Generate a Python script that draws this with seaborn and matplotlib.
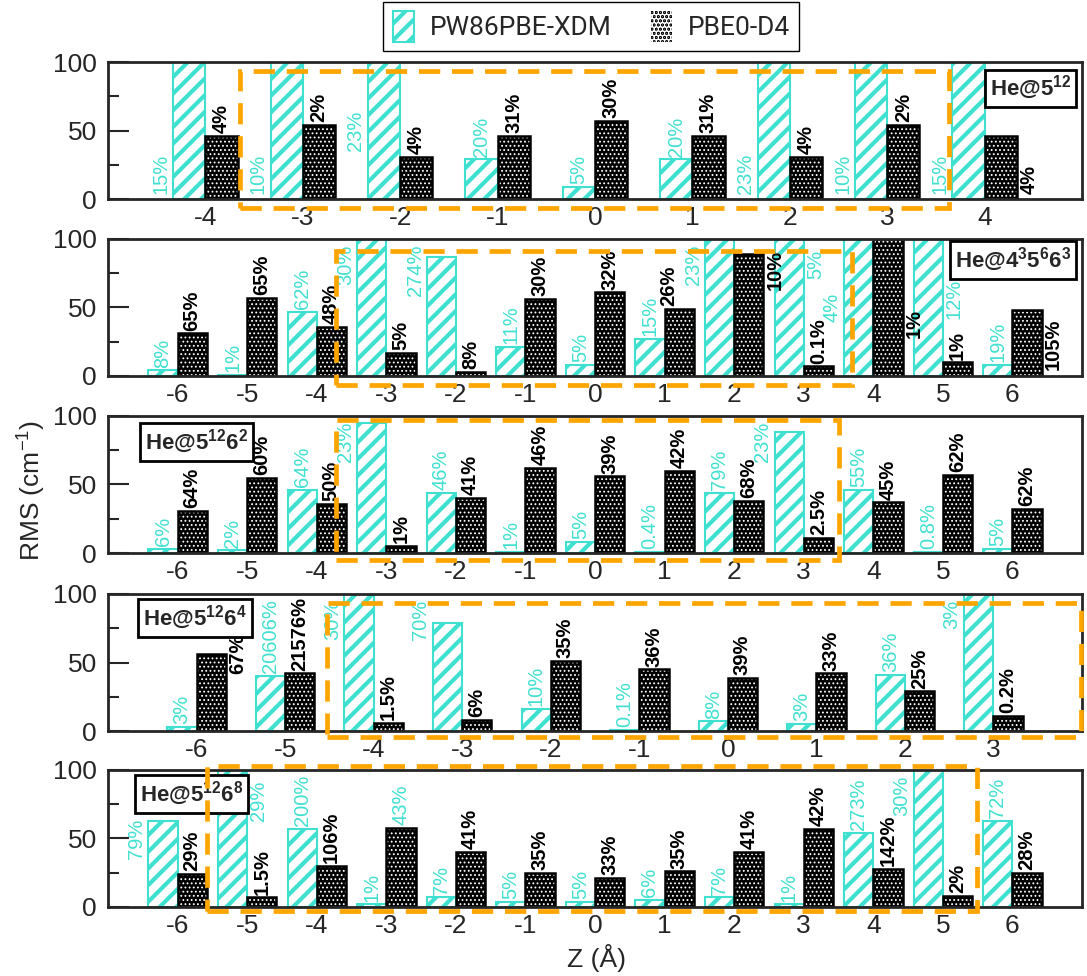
import numpy as np
import pandas as pd
import matplotlib.pyplot as plt
import seaborn as sns
from matplotlib.patches import Rectangle

sns.set_style('ticks')
plt.rcParams['font.family'] = ['Liberation Sans', 'DejaVu Sans']
plt.rcParams['mathtext.fontset'] = 'custom'
plt.rcParams['mathtext.rm'] = 'Liberation Sans'
plt.rcParams['mathtext.bf'] = 'Liberation Sans:bold'
plt.rcParams['hatch.linewidth'] = 3.0

cyan = '#40E0D0'
orange = '#FFA500'
methods = ['PW86PBE-XDM', 'PBE0-D4']

# Panel 1: He@5^12  (bars above 100 are cut by the axis)
z1 = [-4, -3, -2, -1, 0, 1, 2, 3, 4]
xdm1 = [130, 130, 130, 29, 9, 29, 130, 130, 130]
d4_1 = [46, 54, 31, 46, 57, 46, 31, 54, 46]
xdm1_lab = ['15%', '10%', '23%', '20%', '5%', '20%', '23%', '10%', '15%']
d4_1_lab = ['4%', '2%', '4%', '31%', '30%', '31%', '4%', '2%', '4%']

# Panel 2: He@4^3 5^6 6^3
z2 = [-6, -5, -4, -3, -2, -1, 0, 1, 2, 3, 4, 5, 6]
xdm2 = [4, 1, 47, 130, 87, 21, 8, 27, 130, 130, 130, 130, 8]
d4_2 = [31, 57, 36, 17, 3, 56, 61, 49, 89, 7, 130, 10, 48]
xdm2_lab = ['8%', '1%', '62%', '30%', '274%', '11%', '5%', '15%', '23%', '5%', '4%', '12%', '19%']
d4_2_lab = ['65%', '65%', '48%', '5%', '8%', '30%', '32%', '26%', '10%', '0.1%', '1%', '1%', '105%']

# Panel 3: He@5^12 6^2
z3 = [-6, -5, -4, -3, -2, -1, 0, 1, 2, 3, 4, 5, 6]
xdm3 = [3, 2, 46, 95, 44, 1, 8, 1, 44, 88, 46, 1, 3]
d4_3 = [31, 55, 36, 5, 40, 62, 56, 60, 38, 11, 37, 57, 32]
xdm3_lab = ['6%', '2%', '64%', '23%', '46%', '1%', '5%', '0.4%', '79%', '23%', '55%', '0.8%', '5%']
d4_3_lab = ['64%', '60%', '50%', '1%', '41%', '46%', '39%', '42%', '68%', '2.5%', '45%', '62%', '62%']

# Panel 4: He@5^12 6^4
z4 = [-6, -5, -4, -3, -2, -1, 0, 1, 2, 3]
xdm4 = [3, 40, 130, 79, 16, 1, 7, 5, 41, 130]
d4_4 = [56, 42, 6, 8, 51, 45, 39, 42, 29, 11]
xdm4_lab = ['3%', '20606%', '30%', '70%', '10%', '0.1%', '8%', '3%', '36%', '3%']
d4_4_lab = ['67%', '21576%', '1.5%', '6%', '35%', '36%', '39%', '33%', '25%', '0.2%']

# Panel 5: He@5^12 6^8
z5 = [-6, -5, -4, -3, -2, -1, 0, 1, 2, 3, 4, 5, 6]
xdm5 = [63, 130, 57, 2, 7, 4, 4, 5, 7, 2, 54, 130, 63]
d4_5 = [24, 7, 30, 58, 40, 25, 21, 26, 40, 57, 28, 8, 25]
xdm5_lab = ['79%', '29%', '200%', '1%', '7%', '5%', '5%', '6%', '7%', '1%', '273%', '30%', '72%']
d4_5_lab = ['29%', '1.5%', '106%', '43%', '41%', '35%', '33%', '35%', '41%', '42%', '142%', '2%', '28%']

# where each percent label sits: t = on top, k = on top nudged left,
# l/m/h = left low/mid/high, r/q/s/u = right low/lower-mid/mid/high,
# T = on top in the other series colour
xdm1_at = 'llmtttlll'
d4_1_at = 'ttttttttr'
xdm2_at = 'ttthhttthumst'
d4_2_at = 'tttttttkutqtr'
xdm3_at = 'ttthttttthttt'
d4_3_at = 'ttttttttttttt'
xdm4_at = 'tthhttttth'
d4_4_at = 'sttttttttt'
xdm5_at = 'mutttttttttht'
d4_5_at = 'tttTttttttttt'

names = [r'He@5$^{\mathbf{12}}$',
         r'He@4$^{\mathbf{3}}$5$^{\mathbf{6}}$6$^{\mathbf{3}}$',
         r'He@5$^{\mathbf{12}}$6$^{\mathbf{2}}$',
         r'He@5$^{\mathbf{12}}$6$^{\mathbf{4}}$',
         r'He@5$^{\mathbf{12}}$6$^{\mathbf{8}}$']

panels = [
    (z1, xdm1, d4_1, xdm1_lab, d4_1_lab, xdm1_at, d4_1_at),
    (z2, xdm2, d4_2, xdm2_lab, d4_2_lab, xdm2_at, d4_2_at),
    (z3, xdm3, d4_3, xdm3_lab, d4_3_lab, xdm3_at, d4_3_at),
    (z4, xdm4, d4_4, xdm4_lab, d4_4_lab, xdm4_at, d4_4_at),
    (z5, xdm5, d4_5, xdm5_lab, d4_5_lab, xdm5_at, d4_5_at),
]

# layout: axes bottoms, x limits, bar group width, name box, dashed frame
bottoms = [0.796, 0.6148, 0.4334, 0.251, 0.0707]
xlims = [(-5, 5), (-7, 7), (-7, 7), (-7, 4), (-7, 7)]
widths = [0.66, 0.84, 0.84, 0.66, 0.84]
name_pos = [(0.989, 0.91, 'right'), (0.989, 0.95, 'right'), (0.038, 0.91, 'left'),
            (0.036, 0.93, 'left'), (0.033, 0.93, 'left')]
frames = [(-3.65, -6.6, 3.63, 93.4), (-3.73, -6.6, 3.70, 91), (-3.73, -5, 3.50, 97),
          (-4.53, -4.3, 3.99, 93.5), (-5.58, -3, 5.49, 103)]

side_cfg = {'l': ('left', 4, 'bottom'), 'm': ('left', 50, 'center'), 'h': ('left', 96, 'top'),
            'r': ('right', 4, 'bottom'), 'q': ('right', 38, 'center'),
            's': ('right', 56, 'center'), 'u': ('right', 92, 'top')}
styles = [dict(color=cyan, fontweight='normal'), dict(color='black', fontweight='bold')]
label_size = 14.5


def put_label(ax, bar, text, code, series):
    x0 = bar.get_x()
    w = bar.get_width()
    h = min(bar.get_height(), 100)
    st = styles[series]
    if code == 'T':
        st = styles[1 - series]
    if code in 'tTk':
        xc = x0 + w / 2
        if code == 'k':
            xc -= 0.35 * w
        ax.text(xc, h + 2, text, rotation=90, ha='center', va='bottom', fontsize=label_size, **st)
        return
    side, y, va = side_cfg[code]
    if side == 'left':
        ax.text(x0 - 0.03, y, text, rotation=90, ha='right', va=va, fontsize=label_size, **st)
    else:
        ax.text(x0 + w + 0.03, y, text, rotation=90, ha='left', va=va, fontsize=label_size, **st)


def thin_hatch(bar, lw):
    if hasattr(bar, 'set_hatch_linewidth'):
        bar.set_hatch_linewidth(lw)
    elif hasattr(bar, '_hatch_linewidth'):
        bar._hatch_linewidth = lw


fig = plt.figure(figsize=(10.87, 9.76), dpi=100)
axes = []
for i, (z, xdm, d4, xl, dl, xat, dat) in enumerate(panels):
    ax = fig.add_axes([0.0994, bottoms[i], 0.896, 0.1404])
    axes.append(ax)
    n = len(z)
    df = pd.DataFrame({'z': list(z) * 2, 'rms': list(xdm) + list(d4),
                       'method': [methods[0]] * n + [methods[1]] * n})
    sns.barplot(data=df, x='z', y='rms', hue='method', hue_order=methods, native_scale=True,
                width=widths[i], errorbar=None, legend=False, ax=ax)

    for bar in ax.containers[0]:
        bar.set_facecolor('white')
        bar.set_edgecolor(cyan)
        bar.set_linewidth(1.5)
        bar.set_hatch('//')
    for bar in ax.containers[1]:
        # white dots on black: hatch takes the edge colour, outline added below
        bar.set_facecolor('black')
        bar.set_edgecolor('white')
        bar.set_linewidth(0)
        bar.set_hatch('....')
        thin_hatch(bar, 0.8)
        ax.add_patch(Rectangle(bar.get_xy(), bar.get_width(), bar.get_height(),
                               fill=False, ec='black', lw=1.8, zorder=bar.get_zorder() + 0.1))

    for bar, text, code in zip(ax.containers[0], xl, xat):
        put_label(ax, bar, text, code, 0)
    for bar, text, code in zip(ax.containers[1], dl, dat):
        put_label(ax, bar, text, code, 1)

    ax.set_xlim(*xlims[i])
    ax.set_ylim(0, 100)
    ax.set_xticks(z)
    ax.set_xticklabels([str(v) for v in z])
    ax.set_yticks([0, 50, 100])
    ax.set_yticks([25, 75], minor=True)
    ax.set_xlabel('')
    ax.set_ylabel('')
    ax.tick_params(axis='x', length=0, labelsize=19, pad=5)
    ax.tick_params(axis='y', which='major', direction='in', length=15, width=1.5, labelsize=19, pad=8)
    ax.tick_params(axis='y', which='minor', direction='in', length=8, width=1.5)
    for sp in ax.spines.values():
        sp.set_visible(True)
        sp.set_linewidth(2)

    nx, ny, nha = name_pos[i]
    ax.text(nx, ny, names[i], transform=ax.transAxes, ha=nha, va='top', fontsize=16,
            fontweight='bold', zorder=4,
            bbox=dict(boxstyle='square,pad=0.22', fc='white', ec='black', lw=2))

    fx0, fy0, fx1, fy1 = frames[i]
    ax.add_patch(Rectangle((fx0, fy0), fx1 - fx0, fy1 - fy0, fill=False, ec=orange, lw=3.4,
                           ls=(0, (4.5, 2.5)), clip_on=False, zorder=5))

fig.legend(handles=[axes[0].containers[0], axes[0].containers[1]], labels=methods,
           loc='center', bbox_to_anchor=(0.544, 0.973), ncol=2, frameon=True, fancybox=False,
           edgecolor='black', framealpha=1, handlelength=0.8, handleheight=1.4,
           columnspacing=1.5, handletextpad=0.6, borderpad=0.35,
           prop={'family': ['Liberation Sans Narrow', 'Roboto'], 'size': 19})

fig.text(0.028, 0.498, r'RMS (cm$^{\mathregular{-1}}$)', rotation=90, ha='center', va='center', fontsize=19)
fig.text(0.549, 0.018, 'Z (Å)', ha='center', va='center', fontsize=19)

fig.savefig('out.png', dpi=100)
